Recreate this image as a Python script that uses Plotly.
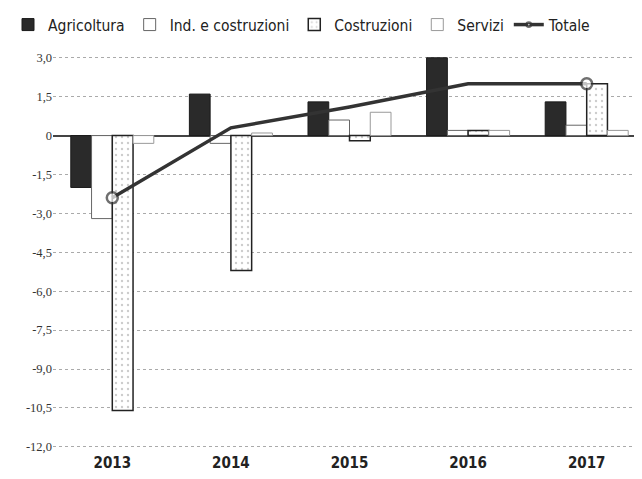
import plotly.graph_objects as go

years = ["2013", "2014", "2015", "2016", "2017"]
agricoltura = [-2.0, 1.6, 1.3, 3.0, 1.3]
ind_costruzioni = [-3.2, -0.3, 0.6, 0.2, 0.4]
costruzioni = [-10.6, -5.2, -0.2, 0.2, 2.0]
servizi = [-0.3, 0.1, 0.9, 0.2, 0.2]
totale = [-2.4, 0.3, 1.1, 2.0, 2.0]

tick_vals = [3.0, 1.5, 0, -1.5, -3.0, -4.5, -6.0, -7.5, -9.0, -10.5, -12.0]
tick_text = ["3,0", "1,5", "0", "-1,5", "-3,0", "-4,5", "-6,0", "-7,5", "-9,0", "-10,5", "-12,0"]

FONT = "DejaVu Sans Condensed, Liberation Sans Narrow, sans-serif"

fig = go.Figure()
fig.add_trace(go.Bar(name="Agricoltura", x=years, y=agricoltura,
                     marker=dict(color="#2a2a2a", line=dict(color="#1a1a1a", width=1))))
fig.add_trace(go.Bar(name="Ind. e costruzioni", x=years, y=ind_costruzioni,
                     marker=dict(color="#ffffff", line=dict(color="#666666", width=1))))
fig.add_trace(go.Bar(name="Costruzioni", x=years, y=costruzioni,
                     marker=dict(color="#ffffff", line=dict(color="#222222", width=1.5),
                                 pattern=dict(shape=".", fgcolor="#999999", bgcolor="#ffffff",
                                              size=6, solidity=0.12))))
fig.add_trace(go.Bar(name="Servizi", x=years, y=servizi,
                     marker=dict(color="#ffffff", line=dict(color="#999999", width=1))))
fig.add_trace(go.Scatter(name="Totale", x=years, y=totale, mode="lines+markers",
                         line=dict(color="#333333", width=3.5),
                         marker=dict(size=[11, 0, 0, 0, 11], color="#ffffff",
                                     line=dict(color="#333333", width=2.5))))

fig.update_layout(
    width=642, height=479,
    margin=dict(l=45, r=4, t=42, b=35, autoexpand=False),
    paper_bgcolor="#ffffff", plot_bgcolor="#ffffff",
    barmode="group", bargap=0.3, bargroupgap=0.0,
    font=dict(family=FONT, color="#222222"),
    showlegend=True,
    legend=dict(orientation="h", xref="container", x=0.0, yref="container", y=1.0,
                yanchor="top", xanchor="left",
                font=dict(size=15.5, family=FONT, color="#222222"),
                traceorder="normal", itemwidth=30,
                bgcolor="rgba(0,0,0,0)"),
)
fig.update_xaxes(showgrid=False, showline=False, ticks="",
                 tickfont=dict(size=15, family=FONT, color="#222222", weight="bold"))
fig.update_yaxes(range=[-12.2, 3.3], tickvals=tick_vals, ticktext=tick_text,
                 showgrid=True, gridcolor="#aaaaaa", griddash="dot", gridwidth=1,
                 zeroline=True, zerolinecolor="#444444", zerolinewidth=1.5,
                 ticks="", showline=False,
                 tickfont=dict(size=12.5, family="Liberation Serif, serif", color="#333333"))

fig.write_html("out.html")
